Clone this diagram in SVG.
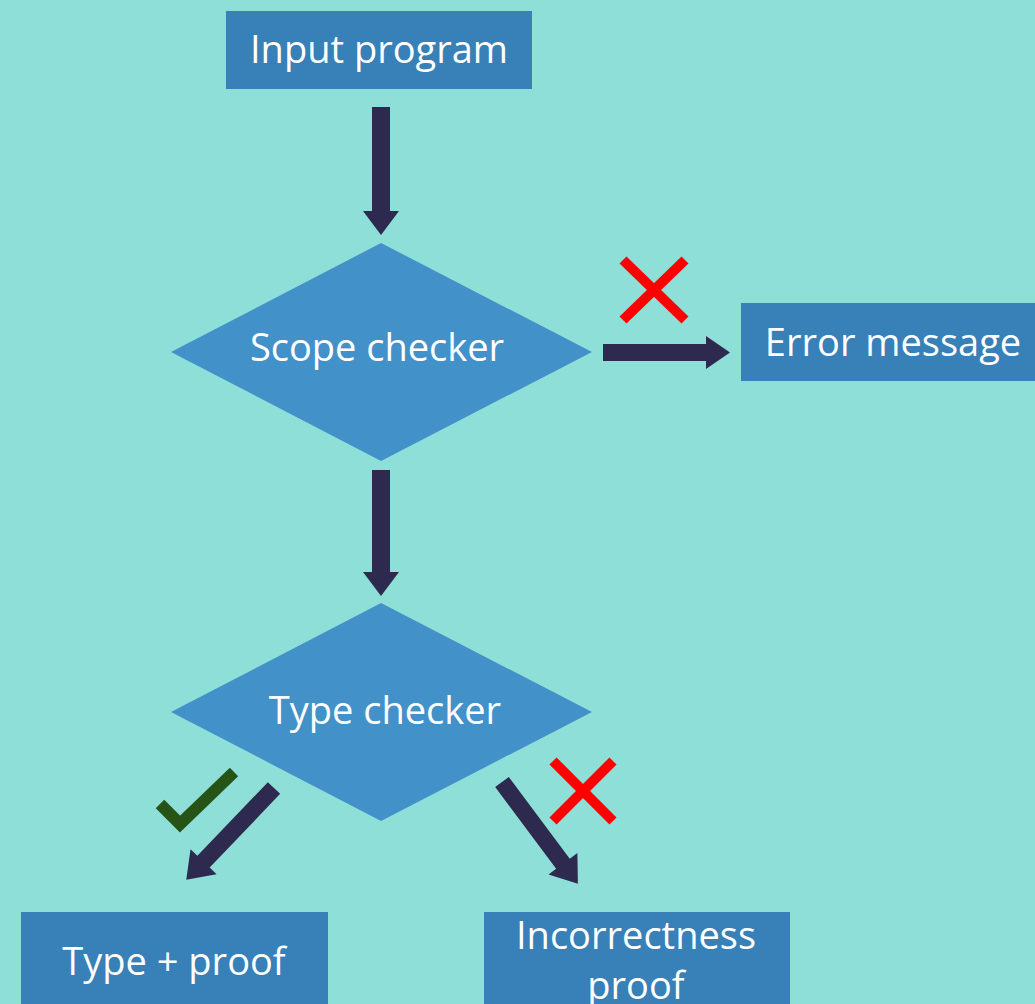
<svg xmlns="http://www.w3.org/2000/svg" width="1035" height="1004" viewBox="0 0 1035 1004">
<defs>
<style>
.box{fill:#3780B8}
.dia{fill:#4391C9}
.lbl{fill:#ffffff;font-family:"Open Sans","Noto Sans",sans-serif;font-size:38px;text-anchor:middle}
.arr{fill:#2E2A4F}
.x{stroke:#FF0000;stroke-width:10;fill:none}
.ok{stroke:#275317;stroke-width:12;fill:none}
</style>
<path id="diag" d="M0,-8.5 H102 V-18 L127,0 L102,18 V8.5 H0 Z"/>
</defs>
<rect width="1035" height="1004" fill="#8EDFD8"/>
<g id="input"><rect class="box" x="226" y="11" width="306" height="78"/><text class="lbl" x="379" y="63">Input program</text></g>
<g id="scope"><polygon class="dia" points="171,352 381,243 592,352 381,461"/><text class="lbl" x="377" y="361">Scope checker</text></g>
<g id="error"><rect class="box" x="741" y="303" width="300" height="78"/><text class="lbl" x="893" y="356">Error message</text></g>
<g id="type"><polygon class="dia" points="171,712 381,603 592,712 381,821"/><text class="lbl" x="385" y="724">Type checker</text></g>
<g id="typeproof"><rect class="box" x="21" y="912" width="307" height="100"/><text class="lbl" x="174" y="975">Type + proof</text></g>
<g id="incorrect"><rect class="box" x="484" y="912" width="306" height="100"/><text class="lbl" x="636" y="949">Incorrectness</text><text class="lbl" x="636" y="999">proof</text></g>
<g id="connectors">
<polygon class="arr" points="372,107 390,107 390,211 399,211 381,235 363,211 372,211"/>
<polygon class="arr" points="372,470 390,470 390,572 399,572 381,596 363,572 372,572"/>
<polygon class="arr" points="603,344 706,344 706,336 730,352.5 706,369 706,361 603,361"/>
<use href="#diag" class="arr" transform="translate(274,788) rotate(133.7)"/>
<use href="#diag" class="arr" transform="translate(502,782) rotate(53.3)"/>
</g>
<g id="marks">
<path class="x" d="M623,260 L685,320 M685,260 L623,320"/>
<path class="x" d="M553,761 L613,821 M613,761 L553,821"/>
<path class="ok" d="M160,804 L180,824 L234,772"/>
</g>
</svg>
